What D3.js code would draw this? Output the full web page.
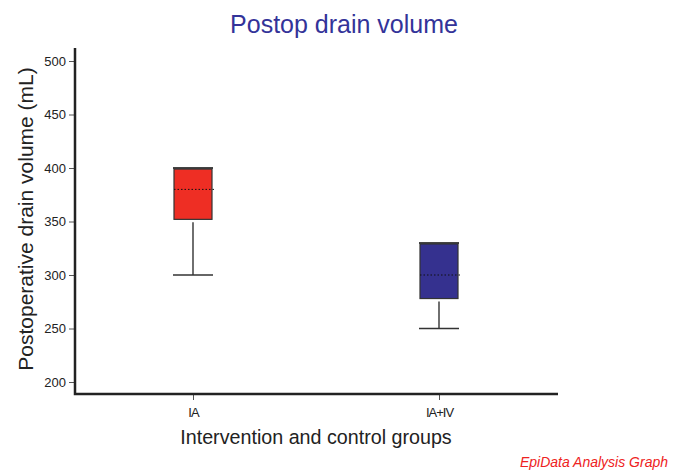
<!DOCTYPE html>
<html>
<head>
<meta charset="utf-8">
<script src="https://cdn.jsdelivr.net/npm/d3@7"></script>
<style>
  body { margin: 0; background: #fff; }
  svg { font-family: "Liberation Sans", Arial, sans-serif; }
</style>
</head>
<body>
<svg width="676" height="470"></svg>
<script>
// box summaries per group
const groups = ['IA', 'IA+IV'];
const mins = [300, 250];
const q1s = [352, 278];
const medians = [380, 300];
const q3s = [399, 329];
const maxs = [400, 330];
const fills = ['#ee2e24', '#35318f'];
const yTicks = [200, 250, 300, 350, 400, 450, 500];

const svg = d3.select('svg');
const plotLeft = 75, plotRight = 558, plotTop = 48, plotBottom = 394;

const y = d3.scaleLinear()
    .domain([200, 500])
    .range([382, 61]);

const x = d3.scalePoint()
    .domain(groups)
    .range([193, 439]);

const yAxis = d3.axisLeft(y)
    .tickValues(yTicks)
    .tickSize(6)
    .tickPadding(3);

const gy = svg.append('g')
    .attr('transform', `translate(${plotLeft},0)`)
    .call(yAxis);
gy.select('.domain').remove();
gy.selectAll('.tick line').attr('stroke', '#555');
gy.selectAll('.tick text')
    .attr('font-size', 13)
    .attr('fill', '#222');

const xAxis = d3.axisBottom(x)
    .tickSize(6)
    .tickPadding(8);

const gx = svg.append('g')
    .attr('transform', `translate(0,${plotBottom})`)
    .call(xAxis);
gx.select('.domain').remove();
gx.selectAll('.tick line').attr('stroke', '#555');
gx.selectAll('.tick text')
    .attr('font-size', 13)
    .attr('fill', '#222')
    .attr('letter-spacing', '-1px');

// axis lines
svg.append('path')
    .attr('d', `M${plotLeft},${plotTop}V${plotBottom}H${plotRight}`)
    .attr('fill', 'none')
    .attr('stroke', '#222')
    .attr('stroke-width', 2.5);

const bw = 38, cap = 40;
const boxes = svg.append('g')
    .selectAll('g')
    .data(groups)
    .enter()
    .append('g');

// whisker
boxes.append('line')
    .attr('x1', d => x(d))
    .attr('x2', d => x(d))
    .attr('y1', (d, i) => y(q1s[i]) + 3)
    .attr('y2', (d, i) => y(mins[i]))
    .attr('stroke', '#222')
    .attr('stroke-width', 1.3);

boxes.append('line')
    .attr('x1', d => x(d) - cap / 2)
    .attr('x2', d => x(d) + cap / 2)
    .attr('y1', (d, i) => y(mins[i]))
    .attr('y2', (d, i) => y(mins[i]))
    .attr('stroke', '#333')
    .attr('stroke-width', 1.5);

boxes.append('line')
    .attr('x1', d => x(d) - cap / 2)
    .attr('x2', d => x(d) + cap / 2)
    .attr('y1', (d, i) => y(maxs[i]))
    .attr('y2', (d, i) => y(maxs[i]))
    .attr('stroke', '#444')
    .attr('stroke-width', 2);

boxes.append('rect')
    .attr('x', d => x(d) - bw / 2)
    .attr('width', bw)
    .attr('y', (d, i) => y(q3s[i]))
    .attr('height', (d, i) => y(q1s[i]) - y(q3s[i]))
    .attr('fill', (d, i) => fills[i])
    .attr('stroke', '#333')
    .attr('stroke-width', 1.2);

boxes.append('line')
    .attr('x1', d => x(d) - bw / 2)
    .attr('x2', d => x(d) + bw / 2 + 2)
    .attr('y1', (d, i) => y(medians[i]))
    .attr('y2', (d, i) => y(medians[i]))
    .attr('stroke', '#111')
    .attr('stroke-width', 1)
    .attr('stroke-dasharray', '1.5,2');

// texts
svg.append('text')
    .attr('x', 344)
    .attr('y', 33)
    .attr('text-anchor', 'middle')
    .attr('font-size', 25)
    .attr('fill', '#333399')
    .text('Postop drain volume');

svg.append('text')
    .attr('transform', 'translate(33,219) rotate(-90)')
    .attr('text-anchor', 'middle')
    .attr('font-size', 21)
    .attr('fill', '#222')
    .text('Postoperative drain volume (mL)');

svg.append('text')
    .attr('x', 316)
    .attr('y', 444)
    .attr('text-anchor', 'middle')
    .attr('font-size', 19.7)
    .attr('fill', '#222')
    .text('Intervention and control groups');

svg.append('text')
    .attr('x', 668)
    .attr('y', 467)
    .attr('text-anchor', 'end')
    .attr('font-size', 14)
    .attr('font-style', 'italic')
    .attr('fill', '#ee2222')
    .text('EpiData Analysis Graph');
</script>
</body>
</html>
